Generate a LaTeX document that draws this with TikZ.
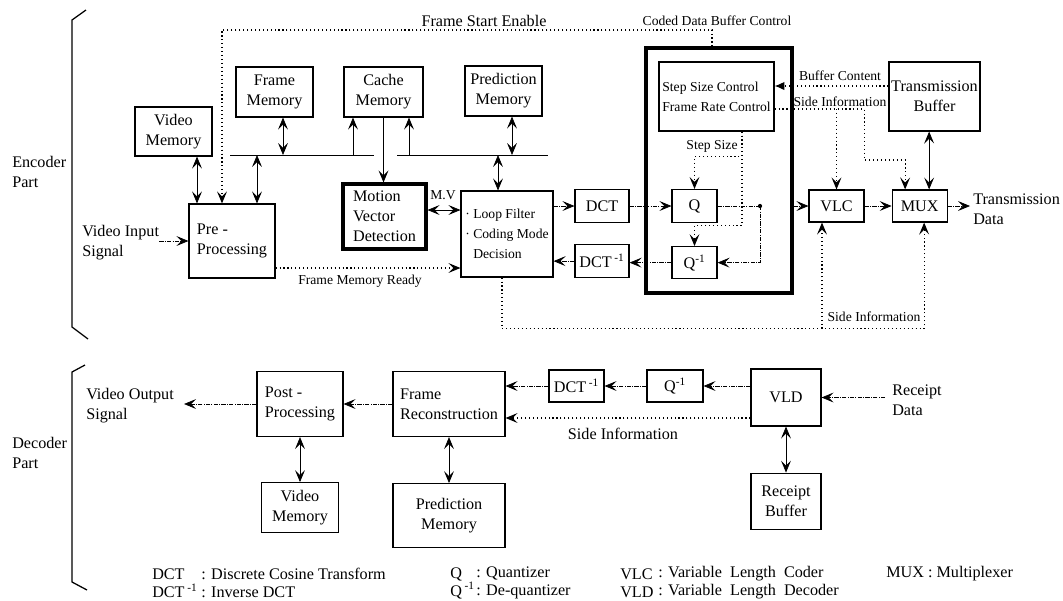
\documentclass[tikz,border=0pt]{standalone}
\usepackage{fontspec}
\setmainfont{Liberation Serif}
\usepackage{tikz}
\usetikzlibrary{arrows.meta, positioning, calc}
\newcommand{\boxfont}{\fontsize{11.5}{14.2}\selectfont}
\newcommand{\labfont}{\fontsize{9.7}{14.2}\selectfont}
\newcommand{\px}[1]{#1*0.025cm}
\tikzset{
    blk/.style={draw, rectangle, line width=0.8pt, inner sep=1pt, font=\boxfont, align=center},
    thickblk/.style={blk, line width=2.2pt},
    sz/.style 2 args={minimum width=#1*0.025cm, minimum height=#2*0.025cm},
    txt/.style={inner sep=0pt, font=\boxfont, align=left},
    lbl/.style={inner sep=0pt, font=\labfont},
    lgd/.style={inner sep=0pt, font=\fontsize{11.5}{12.8}\selectfont, align=left},
    bus/.style={line width=0.6pt},
    flow/.style={->, line width=0.5pt, densely dashdotted},
    ctl/.style={line width=0.8pt, dotted},
    biarr/.style={<->, line width=0.5pt}
}

\begin{document}
\begin{tikzpicture}[x=0.025cm, y=-0.025cm,
    >={Stealth[length=8.5pt,width=7pt,inset=3.5pt]}]
\useasboundingbox (0,0) rectangle (1063,600);

% brackets
\draw[line width=0.9pt] (86,10) -- (72,20) -- (72,327) -- (88,339);
\draw[line width=0.9pt] (85,365) -- (72,372) -- (72,582) -- (87,590);
\node[txt, anchor=west] (encp) at (12,172) {Encoder\\Part};
\node[txt, anchor=west] (decp) at (12,453) {Decoder\\Part};

% encoder blocks
\node[blk, sz={77}{49}] (vmem) at (173.5,131.5) {Video\\Memory};
\node[blk, sz={77}{50}] (fmem) at (274.5,92) {Frame\\Memory};
\node[blk, sz={79}{50}] (cmem) at (383.5,92) {Cache\\Memory};
\node[blk, sz={77}{50}] (pmem) at (503.5,91) {Prediction\\Memory};
\node[blk, sz={86}{74}, align=left] (prep) at (232,241) {Pre -\\Processing};
\node[thickblk, sz={83}{65}, align=left] (mvd) at (384.5,216.5) {Motion\\Vector\\Detection};
\node[blk, sz={92}{86}, align=left, font=\labfont] (loop) at (507,234) {· Loop Filter\\· Coding Mode\\\phantom{· }Decision};
\node[blk, sz={54}{33}] (dct) at (602,206) {DCT};
\node[blk, sz={54}{33}, below=0.525cm of dct] (idct) {DCT\,\textsuperscript{-1}};
\node[thickblk, sz={146}{245}] (ctrl) at (719,170.5) {};
\node[blk, sz={115}{69}, align=left, font=\labfont] (ssc) at (716.5,96.5) {Step Size Control\\Frame Rate Control};
\node[blk, sz={45}{33}] (q) at (694.5,206) {Q};
\node[blk, sz={45}{32}, below=0.575cm of q] (qinv) {Q\textsuperscript{-1}};
\node[blk, sz={55}{32}] (vlc) at (836.5,206) {VLC};
\node[blk, sz={55}{32}, right=0.675cm of vlc] (mux) {MUX};
\node[blk, sz={91}{69}] (tbuf) at (934.5,96.5) {Transmission\\Buffer};
\coordinate (jn) at (760,206);

% encoder labels
\node[txt, anchor=west] (vin) at (82,243) {Video Input\\Signal};
\node[txt, anchor=west] (tdat) at (973,209) {Transmission\\Data};
\node[txt] (fsel) at (484,21) {Frame Start Enable};
\node[lbl] (cdbl) at (717,21) {Coded Data Buffer Control};
\node[lbl] (mvl) at (443,195) {M.V};
\node[lbl] (fmrl) at (360,281) {Frame Memory Ready};
\node[lbl] (bcl) at (840,76) {Buffer Content};
\node[lbl] (sitl) at (840,102) {Side Information};
\node[lbl] (stl) at (712,146) {Step Size};
\node[lbl] (sibl) at (874,317) {Side Information};

% memory bus
\coordinate (busl) at (230,155);
\coordinate (busm) at (374,155);
\coordinate (busn) at (397,155);
\coordinate (busr) at (548,155);
\draw[bus] (busl) -- (busm);
\draw[bus] (busn) -- (busr);
\draw[biarr] ([xshift=\px{23.5}]vmem.south) -- ([xshift=\px{23.5}]vmem.south |- prep.north);
\draw[biarr] ([xshift=\px{25}]prep.north) -- ([xshift=\px{25}]prep.north |- busl);
\draw[biarr] ([xshift=\px{8.5}]fmem.south) -- ([xshift=\px{8.5}]fmem.south |- busl);
\draw[bus, ->] ([xshift=\px{-30.5}]cmem.south |- busl) -- ([xshift=\px{-30.5}]cmem.south);
\draw[bus, ->] (cmem.south) -- (cmem.south |- mvd.north);
\draw[bus, ->] ([xshift=\px{25.5}]cmem.south |- busl) -- ([xshift=\px{25.5}]cmem.south);
\draw[biarr] ([xshift=\px{8.5}]pmem.south) -- ([xshift=\px{8.5}]pmem.south |- busl);
\draw[biarr] ([xshift=\px{-9}]loop.north |- busl) -- ([xshift=\px{-9}]loop.north);

% control lines
\coordinate (fse) at (222,30);
\coordinate (cdb) at (712,30);
\draw[ctl, ->] (cdb |- ctrl.north) -- (cdb) -- (fse) -- (fse |- prep.north);
\draw[ctl, ->] ([yshift=\px{-27}]prep.east) -- ([yshift=\px{-27}]prep.east -| loop.west);
\draw[biarr] ([yshift=\px{6.5}]mvd.east) -- ([yshift=\px{6.5}]mvd.east -| loop.west);
\draw[ctl, ->] ([xshift=\px{25.5}]ssc.south) -- ++(0,25) -| (q.north);
\draw[ctl, ->] ([xshift=\px{25.5}]ssc.south) -- ++(0,94) -| (qinv.north);
\draw[ctl, -{Latex[length=7pt,width=6pt]}] ([yshift=\px{10.5}]tbuf.west) -- ([yshift=\px{10.5}]tbuf.west -| ssc.east);
\draw[ctl, ->] ([yshift=\px{-12.5}]ssc.east) -- ++(90,0) coordinate (sit) -- ++(0,51) -| ([xshift=\px{-14.5}]mux.north);
\draw[ctl, ->] (vlc.north |- sit) -- (vlc.north);
\draw[ctl, ->] ([xshift=\px{-5}]loop.south) -- ++(0,51) coordinate (sib) -| ([xshift=\px{4.5}]mux.south);
\draw[ctl, ->] ([xshift=\px{-14.5}]vlc.south |- sib) -- ([xshift=\px{-14.5}]vlc.south);

% data path
\draw[flow] (vin.east |- prep.west) -- (prep.west);
\draw[flow] (loop.east |- dct.west) -- (dct.west);
\draw[flow] (dct.east) -- (q.west);
\draw[line width=0.5pt, densely dashdotted] (q.east) -- (jn);
\fill (jn) circle[radius=1.5pt];
\draw[flow] (jn) |- (qinv.east);
\draw[flow] (ctrl.east |- jn) -- (vlc.west);
\draw[flow] (qinv.west) -- (idct.east |- qinv.west);
\draw[flow] (idct.west) -- (loop.east |- idct.west);
\draw[flow] (vlc.east) -- (mux.west);
\draw[flow] (mux.east) -- ([xshift=\px{-3}]tdat.west |- mux.east);
\draw[biarr] ([xshift=\px{9.5}]mux.north) -- ([xshift=\px{9.5}]mux.north |- tbuf.south);

% decoder blocks
\node[blk, sz={86}{65}, align=left] (post) at (300,404) {Post -\\Processing};
\node[blk, sz={77}{50}, below=1.125cm of post] (dvmem) {Video\\Memory};
\node[blk, sz={112}{65}, align=left] (frec) at (449,404) {Frame\\Reconstruction};
\node[blk, sz={112}{64}, below=1.15cm of frec] (dpmem) {Prediction\\Memory};
\node[blk, sz={55}{32}] (didct) at (576.5,386) {DCT\,\textsuperscript{-1}};
\node[blk, sz={56}{32}] (dqinv) at (675,386) {Q\textsuperscript{-1}};
\node[blk, sz={70}{57}] (vld) at (786,397.5) {VLD};
\node[blk, sz={70}{56}, below=1.15cm of vld] (rbuf) {Receipt\\Buffer};
\node[txt, anchor=west] (vout) at (86,406) {Video Output\\Signal};
\node[txt, anchor=west] (rdat) at (892,400) {Receipt\\Data};
\node[txt] (sidl) at (623,434) {Side Information};

% decoder paths
\draw[flow] (post.west) -- ([xshift=\px{10}]vout.east |- post.west);
\draw[flow] (frec.west) -- (post.east);
\draw[biarr] (post.south) -- (dvmem.north);
\draw[biarr] (frec.south) -- (dpmem.north);
\draw[flow] (didct.west) -- (frec.east |- didct.west);
\draw[flow] (dqinv.west) -- (didct.east);
\draw[flow] (vld.west |- dqinv.east) -- (dqinv.east);
\draw[ctl, ->] ([yshift=\px{-20.5}]vld.west) -- ([yshift=\px{-20.5}]vld.west -| frec.east);
\draw[flow] ([xshift=\px{-7}]rdat.west |- vld.east) -- (vld.east);
\draw[biarr] (vld.south) -- (rbuf.north);

% legend
\node[lgd, anchor=west] (lgk1) at (152,583) {DCT\\DCT\,\textsuperscript{-1}};
\node[lgd, anchor=west] (lgv1) at (201,583) {: Discrete Cosine Transform\\: Inverse DCT};
\node[lgd, anchor=west] (lgk2) at (450,583) {Q\\Q\,\textsuperscript{-1}};
\node[lgd, anchor=west] (lgv2) at (476,583) {: Quantizer\\: De-quantizer};
\node[lgd, anchor=west] (lgk3) at (620,583) {VLC\\VLD};
\node[lgd, anchor=west] (lgv3) at (658,583) {: Variable\enspace Length\enspace Coder\\: Variable\enspace Length\enspace Decoder};
\node[lgd, anchor=west] (lgk4) at (886,574) {MUX : Multiplexer};
\end{tikzpicture}
\end{document}
